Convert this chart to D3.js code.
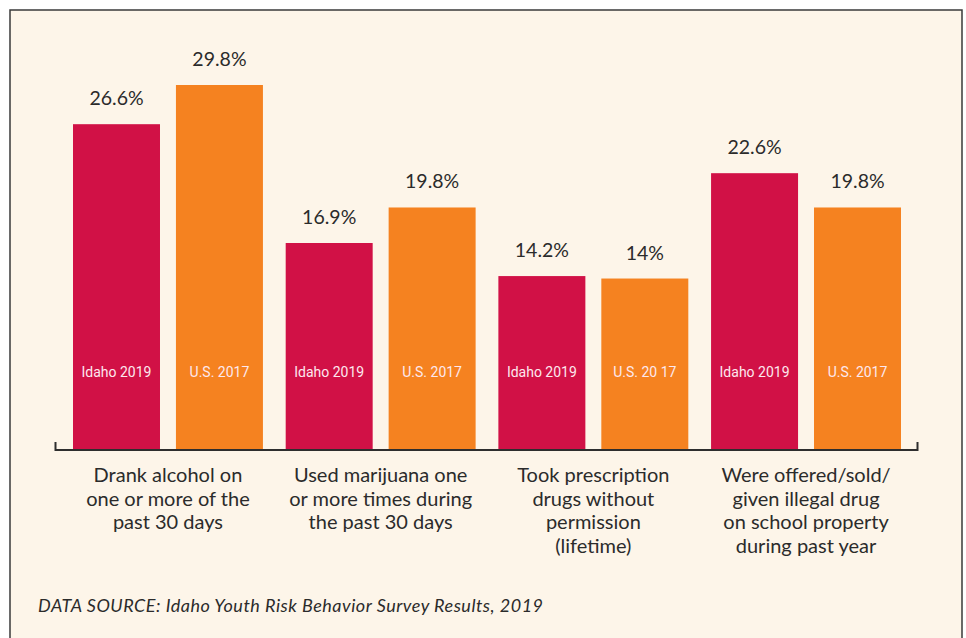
<!DOCTYPE html>
<html>
<head>
<meta charset="utf-8">
<script src="https://cdn.jsdelivr.net/npm/d3@7"></script>
<style>
  html, body { margin: 0; padding: 0; background: #fff; }
  svg { display: block; }
</style>
</head>
<body>
<svg id="chart"></svg>
<script>
// Chart data
var categories = [
  ["Drank alcohol on", "one or more of the", "past 30 days"],
  ["Used marijuana one", "or more times during", "the past 30 days"],
  ["Took prescription", "drugs without", "permission", "(lifetime)"],
  ["Were offered/sold/", "given illegal drug", "on school property", "during past year"]
];
var series = ["Idaho 2019", "U.S. 2017"];
var seriesLabels = [
  ["Idaho 2019", "U.S. 2017"],
  ["Idaho 2019", "U.S. 2017"],
  ["Idaho 2019", "U.S. 20 17"],
  ["Idaho 2019", "U.S. 2017"]
];
var idaho = [26.6, 16.9, 14.2, 22.6];
var us = [29.8, 19.8, 14, 19.8];
var valueLabels = [
  ["26.6%", "29.8%"],
  ["16.9%", "19.8%"],
  ["14.2%", "14%"],
  ["22.6%", "19.8%"]
];
var colors = ["#d11146", "#f58220"];

var W = 966, H = 638;
var baseY = 450;

var svg = d3.select("#chart")
  .attr("width", W)
  .attr("height", H);

// Panel background and border (open at the bottom)
svg.append("rect")
  .attr("x", 10).attr("y", 10)
  .attr("width", 952).attr("height", H - 10)
  .attr("fill", "#fdf5e9");
svg.append("path")
  .attr("d", "M10," + H + "V10H962V" + H)
  .attr("fill", "none")
  .attr("stroke", "#3a3a3a")
  .attr("stroke-width", 1.5);

// Scales
var x0 = d3.scaleBand()
  .domain(d3.range(categories.length))
  .range([73, 901])
  .paddingInner(0.107)
  .paddingOuter(0);

var x1 = d3.scaleBand()
  .domain(series)
  .range([0, x0.bandwidth()])
  .paddingInner(0.155)
  .paddingOuter(0);

var y = d3.scaleLinear()
  .domain([0, 29.8])
  .range([baseY, 85]);

var rows = idaho.map(function(d, i) {
  return [
    {cat: i, s: series[0], v: idaho[i], label: valueLabels[i][0], inner: seriesLabels[i][0], c: colors[0]},
    {cat: i, s: series[1], v: us[i], label: valueLabels[i][1], inner: seriesLabels[i][1], c: colors[1]}
  ];
});
var flat = d3.merge(rows);

var g = svg.append("g");

g.selectAll("rect.bar")
  .data(flat).enter()
  .append("rect")
  .attr("class", "bar")
  .attr("x", function(d) { return x0(d.cat) + x1(d.s); })
  .attr("y", function(d) { return y(d.v); })
  .attr("width", x1.bandwidth())
  .attr("height", function(d) { return baseY - y(d.v); })
  .attr("fill", function(d) { return d.c; });

// Value labels
g.selectAll("text.val")
  .data(flat).enter()
  .append("text")
  .attr("class", "val")
  .attr("x", function(d) { return x0(d.cat) + x1(d.s) + x1.bandwidth() / 2; })
  .attr("y", function(d) { return y(d.v) - 19; })
  .attr("text-anchor", "middle")
  .style("font-family", "Lato, 'Open Sans', sans-serif")
  .style("font-size", "19.5px")
  .style("fill", "#2b2b2b")
  .text(function(d) { return d.label; });

// Series labels inside bars
g.selectAll("text.inner")
  .data(flat).enter()
  .append("text")
  .attr("class", "inner")
  .attr("x", function(d) { return x0(d.cat) + x1(d.s) + x1.bandwidth() / 2; })
  .attr("y", 377)
  .attr("text-anchor", "middle")
  .style("font-family", "'Liberation Sans Narrow', 'Roboto', sans-serif")
  .style("font-size", "14px")
  .style("fill", "#fde8ee")
  .text(function(d) { return d.inner; });

// Axis baseline with end ticks
svg.append("path")
  .attr("d", "M55.5,442V" + baseY + "H917.5V442")
  .attr("fill", "none")
  .attr("stroke", "#2e2e2e")
  .attr("stroke-width", 2);

// Category labels
var cats = svg.selectAll("text.cat")
  .data(categories).enter()
  .append("text")
  .attr("class", "cat")
  .attr("text-anchor", "middle")
  .attr("x", function(d, i) { return x0(i) + x0.bandwidth() / 2; })
  .attr("y", 482)
  .style("font-family", "Lato, 'Open Sans', sans-serif")
  .style("font-size", "20px")
  .style("fill", "#2b2b2b");

cats.selectAll("tspan")
  .data(function(d) { return d; }).enter()
  .append("tspan")
  .attr("x", function() { return d3.select(this.parentNode).attr("x"); })
  .attr("dy", function(d, i) { return i === 0 ? 0 : 23.5; })
  .text(function(d) { return d; });

// Source note
svg.append("text")
  .attr("x", 38)
  .attr("y", 612)
  .style("font-family", "Lato, 'Open Sans', sans-serif")
  .style("font-style", "italic")
  .style("font-size", "18px")
  .style("letter-spacing", "0.5px")
  .style("fill", "#2b2b2b")
  .text("DATA SOURCE: Idaho Youth Risk Behavior Survey Results, 2019");
</script>
</body>
</html>
